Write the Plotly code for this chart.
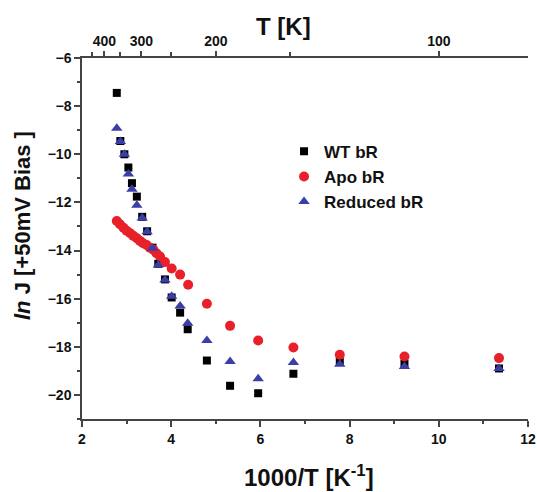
import plotly.graph_objects as go

# 1000/T positions [K^-1]
x_main = [2.78, 2.86, 2.95, 3.04, 3.12, 3.23, 3.35, 3.46, 3.58, 3.71, 3.86,
          4.01, 4.20, 4.37, 4.80, 5.32, 5.95, 6.74, 7.78, 9.23, 11.35]

# ln J at +50 mV bias
wt_br = [-7.45, -9.45, -10.0, -10.55, -11.2, -11.76, -12.6, -13.2, -13.88, -14.55, -15.2,
         -15.95, -16.58, -17.27, -18.57, -19.62, -19.93, -19.12, -18.62, -18.7, -18.9]
reduced_br = [-8.92, -9.47, -10.0, -10.82, -11.45, -12.12, -12.65, -13.22, -13.9, -14.6, -15.22,
              -15.9, -16.3, -17.02, -17.74, -18.61, -19.33, -18.65, -18.72, -18.82, -18.9]

x_apo = [2.78, 2.85, 2.93, 3.00, 3.08, 3.15, 3.23, 3.30, 3.37, 3.45, 3.52, 3.60, 3.67,
         3.75, 3.86, 4.01, 4.20, 4.38, 4.80, 5.32, 5.95, 6.74, 7.78, 9.23, 11.35]
apo_br = [-12.77, -12.91, -13.05, -13.18, -13.28, -13.39, -13.49, -13.60, -13.70, -13.77,
          -13.88, -13.97, -14.11, -14.25, -14.48, -14.75, -15.0, -15.42, -16.21, -17.13,
          -17.74, -18.03, -18.33, -18.4, -18.47]

# temperature scale on the top axis
t_major = [400, 300, 200, 100]
t_minor = [450, 350, 250, 150]

FONT = "Liberation Sans, Arial, sans-serif"
AX = "#444444"

fig = go.Figure()
fig.add_trace(go.Scatter(x=x_main, y=wt_br, mode="markers", name="WT bR",
                         marker=dict(symbol="square", size=8, color="#000000")))
fig.add_trace(go.Scatter(x=x_apo, y=apo_br, mode="markers", name="Apo bR",
                         marker=dict(symbol="circle", size=10, color="#e8202a")))
fig.add_trace(go.Scatter(x=x_main, y=reduced_br, mode="markers", name="Reduced bR",
                         marker=dict(symbol="triangle-up", size=10, color="#3a3fa8")))
# invisible trace to activate the top temperature axis
fig.add_trace(go.Scatter(x=[2, 12], y=[-6, -6], xaxis="x2", mode="markers",
                         marker=dict(opacity=0), showlegend=False, hoverinfo="skip"))

tickfont = dict(family=FONT, size=14, color="#111111", weight="bold")

W, H = 537, 492
L, R, T, B = 82, 9, 58, 73

fig.update_layout(
    width=W, height=H,
    margin=dict(l=L, r=R, t=T, b=B, autoexpand=False),
    paper_bgcolor="white", plot_bgcolor="white",
    showlegend=True,
    legend=dict(x=0.453, y=0.79, xanchor="left", yanchor="top",
                font=dict(family=FONT, size=17, color="#111111", weight="bold"),
                bgcolor="rgba(0,0,0,0)", itemwidth=30, tracegroupgap=0),
    xaxis=dict(range=[2, 12], tickvals=[2, 4, 6, 8, 10, 12], showgrid=False, zeroline=False,
               automargin=False,
               showline=True, linecolor=AX, linewidth=1.5, ticks="outside", ticklen=6,
               tickwidth=1.5, tickcolor=AX, tickfont=tickfont,
               minor=dict(tickvals=[3, 5, 7, 9, 11], ticks="outside", ticklen=3,
                          tickwidth=1.5, tickcolor=AX)),
    xaxis2=dict(range=[2, 12], overlaying="x", side="top", anchor="y", automargin=False,
                tickvals=[1000 / t for t in t_major], ticktext=[str(t) for t in t_major],
                showgrid=False, zeroline=False, showline=True, linecolor=AX, linewidth=1.5,
                ticks="outside", ticklen=5, tickwidth=1.5, tickcolor=AX, tickfont=tickfont,
                minor=dict(tickvals=[1000 / t for t in t_minor], ticks="outside", ticklen=4,
                           tickwidth=1.5, tickcolor=AX)),
    yaxis=dict(range=[-21, -6], tickvals=[-20, -18, -16, -14, -12, -10, -8, -6],
               automargin=False,
               showgrid=False, zeroline=False, showline=True, linecolor=AX, linewidth=1.5,
               ticks="outside", ticklen=6, tickwidth=1.5, tickcolor=AX, tickfont=tickfont,
               minor=dict(tickvals=[-21, -19, -17, -15, -13, -11, -9, -7], ticks="outside",
                          ticklen=3, tickwidth=1.5, tickcolor=AX)),
)

# axis titles, placed by pixel centre within the figure
titles = [
    ("T [K]", 283, 27, 0, 24),
    ("1000/T [K<sup>-1</sup>]", 309, 476, 0, 24),
    ("<i>ln</i> J [+50mV Bias ]", 22, 226, -90, 22),
]
for text, px, py, angle, size in titles:
    fig.add_annotation(
        text=text, showarrow=False, textangle=angle,
        xref="paper", yref="paper", xanchor="center", yanchor="middle",
        x=(px - L) / (W - L - R), y=(H - B - py) / (H - T - B),
        font=dict(family=FONT, size=size, color="#111111", weight="bold"),
    )

fig.write_html("out.html")
